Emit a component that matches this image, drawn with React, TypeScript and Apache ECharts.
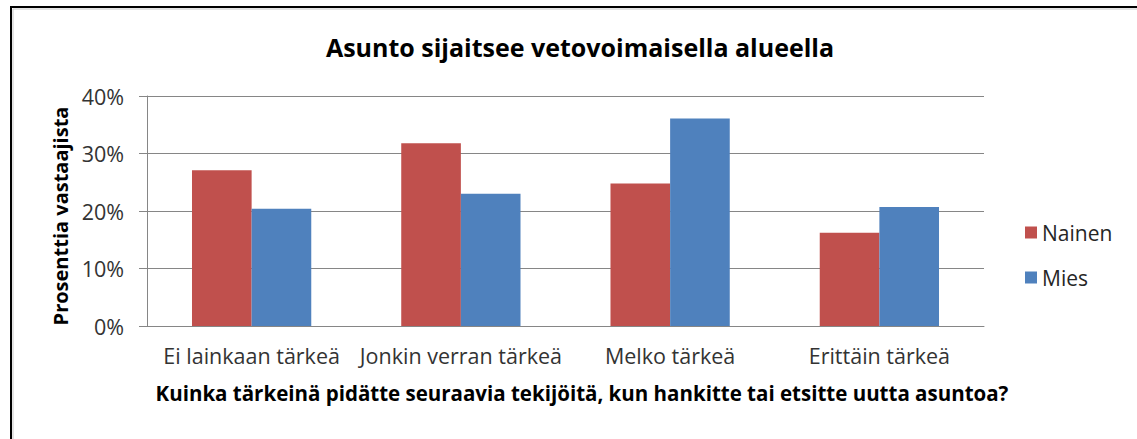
import React, { useEffect, useRef } from "react";
import * as echarts from "echarts";

const categories = ["Ei lainkaan tärkeä", "Jonkin verran tärkeä", "Melko tärkeä", "Erittäin tärkeä"];
const nainen = [27.1, 31.8, 24.8, 16.2];
const mies = [20.4, 23.0, 36.1, 20.7];
const yTicks = [0, 10, 20, 30, 40];
const titleText = "Asunto sijaitsee vetovoimaisella alueella";
const xName = "Kuinka tärkeinä pidätte seuraavia tekijöitä, kun hankitte tai etsitte uutta asuntoa?";
const yName = "Prosenttia vastaajista";

const FONT = "Open Sans";

export default function App() {
  const ref = useRef<HTMLDivElement>(null);
  useEffect(() => {
    if (!ref.current) return;
    const chart = echarts.init(ref.current, undefined, { renderer: "svg" });
    chart.setOption({
      animation: false,
      backgroundColor: "#fff",
      textStyle: { fontFamily: FONT },
      title: {
        text: titleText,
        left: 575,
        top: 29,
        textAlign: "center",
        textStyle: { fontFamily: FONT, fontSize: 25, fontWeight: "bold", color: "#000" },
      },
      grid: { left: 147, right: 153, top: 96, bottom: 113, containLabel: false },
      legend: {
        orient: "vertical",
        left: 1020,
        top: 217,
        itemWidth: 12,
        itemHeight: 12,
        itemGap: 24,
        icon: "rect",
        textStyle: { fontFamily: FONT, fontSize: 21, color: "#262626" },
        data: ["Nainen", "Mies"],
      },
      xAxis: {
        type: "category",
        data: categories,
        axisLine: { lineStyle: { color: "#868686", width: 1 } },
        axisTick: { show: false },
        axisLabel: { interval: 0, fontFamily: FONT, fontSize: 21.5, color: "#333", margin: 18 },
      },
      yAxis: {
        type: "value",
        min: yTicks[0],
        max: yTicks[yTicks.length - 1],
        interval: 10,
        axisLine: { show: true, lineStyle: { color: "#868686", width: 1 } },
        axisTick: { show: true, length: 8, lineStyle: { color: "#868686" } },
        splitLine: { lineStyle: { color: "#868686", width: 1 } },
        axisLabel: { fontFamily: FONT, fontSize: 21.5, color: "#333", margin: 23, formatter: "{value}%" },
      },
      graphic: [
        { type: "rect", shape: { x: 11, y: 7, width: 1300, height: 600 }, style: { fill: "none", stroke: "#000", lineWidth: 2 }, silent: true },
        { type: "rect", shape: { x: 13, y: 9, width: 1300, height: 600 }, style: { fill: "none", stroke: "#c8c8c8", lineWidth: 1 }, silent: true },
        {
          type: "text",
          x: 582,
          y: 393,
          style: { text: xName, align: "center", verticalAlign: "middle", fontFamily: FONT, fontSize: 20.5, fontWeight: "bold", fill: "#000" },
        },
        {
          type: "text",
          x: 60,
          y: 216,
          rotation: Math.PI / 2,
          style: { text: yName, align: "center", verticalAlign: "middle", fontFamily: FONT, fontSize: 20, fontWeight: "bold", fill: "#000" },
        },
      ],
      series: [
        { name: "Nainen", type: "bar", data: nainen, itemStyle: { color: "#C0504D" }, barGap: "0%", barCategoryGap: "43%" },
        { name: "Mies", type: "bar", data: mies, itemStyle: { color: "#4F81BD" }, barGap: "0%", barCategoryGap: "43%" },
      ],
    });
    return () => chart.dispose();
  }, []);
  return <div ref={ref} style={{ position: "fixed", left: 0, top: 0, width: 1137, height: 439 }} />;
}
